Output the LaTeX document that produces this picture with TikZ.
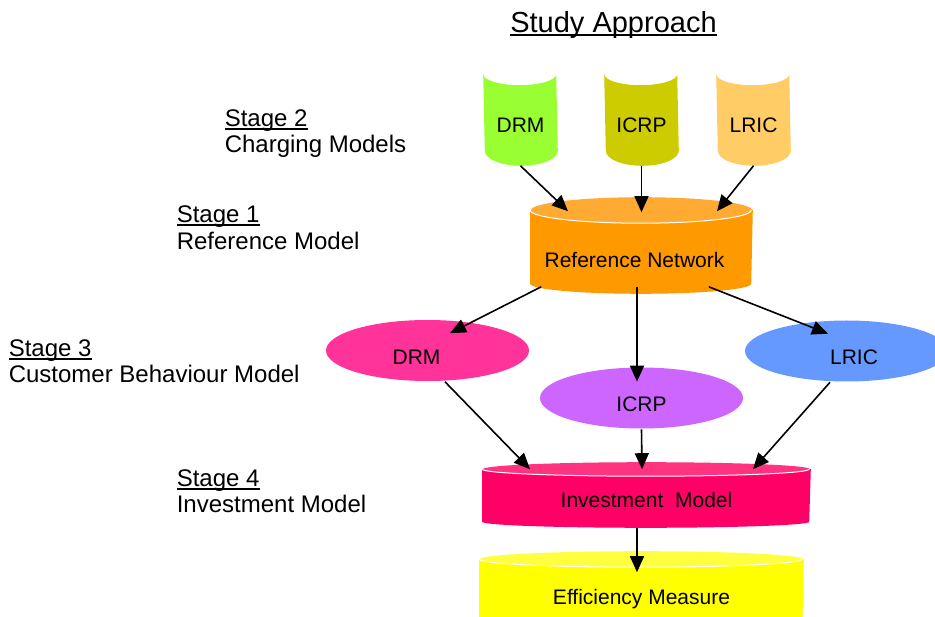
\documentclass[tikz,border=0pt]{standalone}
\usepackage{fontspec}
\setmainfont{Liberation Sans}
\usetikzlibrary{arrows.meta,positioning,shapes.geometric,backgrounds}

\newsavebox\ulbox
\newcommand{\uln}[1]{\sbox\ulbox{#1}\rlap{\rule[-3.2pt]{\wd\ulbox}{1.7pt}}\usebox\ulbox}

\definecolor{drmgreen}{HTML}{99FF33}
\definecolor{icrpolive}{HTML}{CCCC00}
\definecolor{lricpeach}{HTML}{FFCC66}
\definecolor{refbody}{HTML}{FF9900}
\definecolor{reftop}{HTML}{FFAA33}
\definecolor{drmpink}{HTML}{FF3399}
\definecolor{icrpviolet}{HTML}{CC66FF}
\definecolor{lricblue}{HTML}{6699FF}
\definecolor{invbody}{HTML}{FF0066}
\definecolor{invtop}{HTML}{FF3380}
\definecolor{effbody}{HTML}{FFFF00}
\definecolor{efftop}{HTML}{FFFF40}

\begin{document}
\begin{tikzpicture}[
        x = 1pt, y = -1pt, % pixel grid, y runs down
        > = {Triangle[length=16pt,width=14pt]}, % arrow head style
        line width = 1.6pt, % line style
        node distance = 26pt % line distance of the stage labels
        ]

        \tikzset{
        box/.style = {font=\fontsize{21}{25}\selectfont, text height=15pt, text depth=0pt, inner sep=0pt},
        tank/.style = {box, minimum width=73pt, minimum height=80pt},
        drum/.style = {box, rectangle},
        blob/.style = {box, ellipse, minimum width=203pt, minimum height=61pt, text height=28pt},
        stagelbl/.style = {font=\fontsize{24}{27}\selectfont, inner sep=0pt, anchor=base west}
        }

        \useasboundingbox (0,0) rectangle (935,617);

        \node[font=\fontsize{29}{33}\selectfont, anchor=base] (title) at (613.5,33) {\uln{Study Approach}};

        % stage labels
        \node[stagelbl] (s2) at (224,127) {\uln{Stage 2}};
        \node[stagelbl, below=26pt of s2.base west, anchor=base west] (m2) {Charging Models};
        \node[stagelbl] (s1) at (176,223) {\uln{Stage 1}};
        \node[stagelbl, below=27pt of s1.base west, anchor=base west] (m1) {Reference Model};
        \node[stagelbl] (s3) at (8,357) {\uln{Stage 3}};
        \node[stagelbl, below=26pt of s3.base west, anchor=base west] (m3) {Customer Behaviour Model};
        \node[stagelbl] (s4) at (176,487) {\uln{Stage 4}};
        \node[stagelbl, below=26pt of s4.base west, anchor=base west] (m4) {Investment Model};

        % models
        \node[tank] (t1) at (520.5,125) {DRM};
        \node[tank] (t2) at (641.5,125) {ICRP};
        \node[tank] (t3) at (753.5,125) {LRIC};

        \node[drum, minimum width=221pt, minimum height=95pt, text height=44pt] (ref) at (641.5,245.5) {\hspace*{-14pt}Reference Network};

        \node[blob, fill=drmpink] (e1) at (427.5,350.5) {\hspace*{-22pt}DRM};
        \node[blob, fill=icrpviolet] (e2) at (641.5,398) {ICRP};
        \node[blob, fill=lricblue] (e3) at (846.5,351) {\hspace*{15pt}LRIC};

        \node[drum, minimum width=327pt, minimum height=64pt, text height=25pt] (inv) at (646.5,495) {Investment\ \ Model};
        \node[drum, minimum width=323pt, minimum height=90pt] (eff) at (641.5,597) {Efficiency Measure};

        \begin{scope}[on background layer]
        \clip (0,0) rectangle (935,617);
        \foreach \nm/\col in {t1/drmgreen, t2/icrpolive, t3/lricpeach} {
            \fill[\col] ([yshift=10pt]\nm.north west) arc[start angle=180, end angle=360, x radius=36.5pt, y radius=11pt]
                -- ([yshift=15pt]\nm.south east) arc[start angle=0, end angle=-180, x radius=36.5pt, y radius=15pt] -- cycle;
        }
        \foreach \nm/\bc/\tc/\rx/\ryt/\ryb in {ref/refbody/reftop/110.5pt/13pt/10pt, inv/invbody/invtop/163.5pt/7pt/6pt, eff/effbody/efftop/161.5pt/8pt/8pt} {
            \fill[\bc] ([yshift=-\ryt]\nm.north west) -- ([yshift=\ryb]\nm.south west)
                arc[start angle=180, end angle=360, x radius=\rx, y radius=\ryb] -- ([yshift=-\ryt]\nm.north east) -- cycle;
            \fill[\tc] ([yshift=-\ryt]\nm.north) ellipse[x radius=\rx, y radius=\ryt];
            \draw[white, line width=1pt] ([yshift=-\ryt]\nm.north west) arc[start angle=180, end angle=360, x radius=\rx, y radius=\ryt];
        }
        \end{scope}

        \draw[->] (t1.south) -- ([xshift=-73.5pt,yshift=-14pt]ref.north);
        \draw[->] (t2.south) -- ([yshift=-15pt]ref.north);
        \draw[->] (t3.south) -- ([xshift=75.5pt,yshift=-14pt]ref.north);

        \draw[->] ([xshift=11pt,yshift=7pt]ref.south west) -- ([xshift=22.5pt,yshift=-14pt]e1.north);
        \draw[->] ([xshift=-4.5pt,yshift=7pt]ref.south) -- ([xshift=-4.5pt,yshift=-15pt]e2.north);
        \draw[->] ([xshift=-44pt,yshift=7pt]ref.south east) -- ([xshift=-18.5pt,yshift=-14pt]e3.north);

        \draw[->] ([xshift=17.5pt]e1.south) -- ([xshift=-116.5pt,yshift=-7pt]inv.north);
        \draw[->] (e2.south) -- ([xshift=-4.5pt,yshift=-7pt]inv.north);
        \draw[->] ([xshift=-16.5pt]e3.south) -- ([xshift=106.5pt,yshift=-7pt]inv.north);

        \draw[->] ([xshift=-9.5pt]inv.south) -- ([xshift=-4.5pt,yshift=-21pt]eff.north);

      \end{tikzpicture}
\end{document}
